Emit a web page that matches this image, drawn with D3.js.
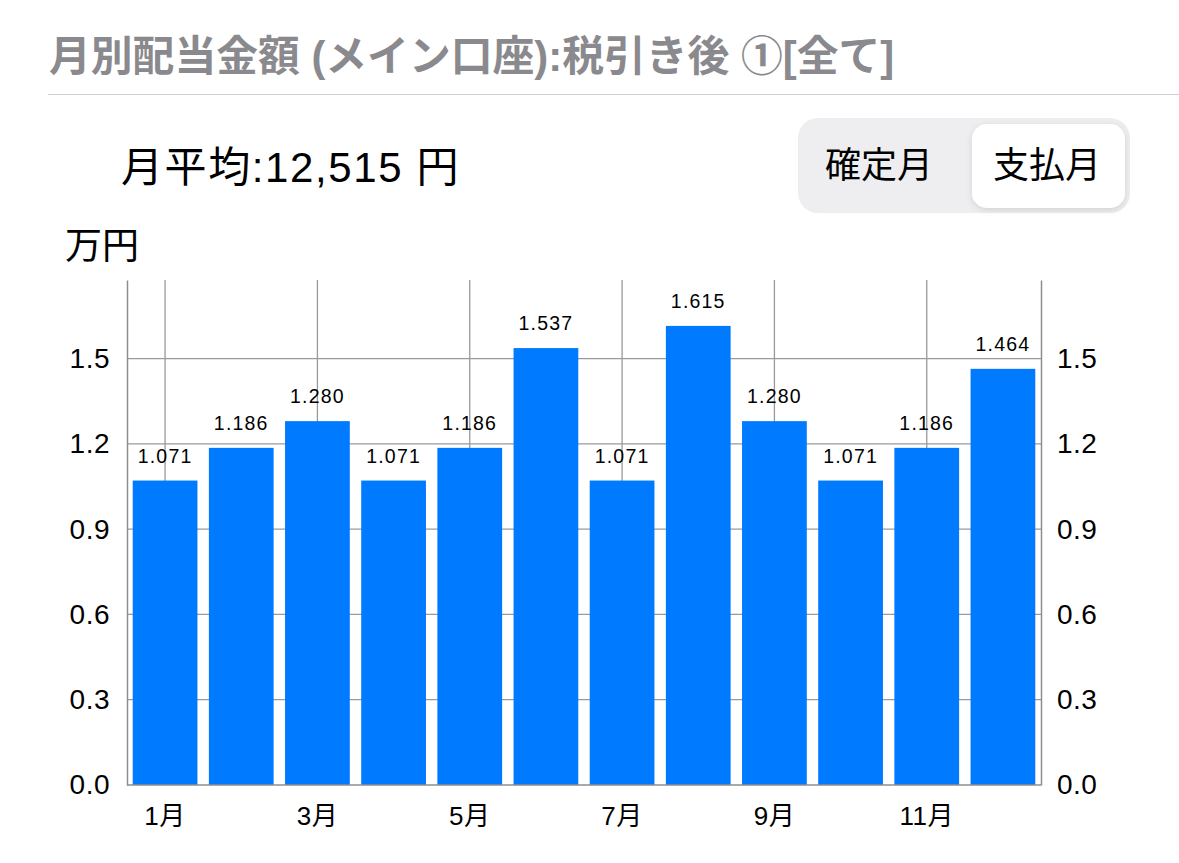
<!DOCTYPE html>
<html>
<head>
<meta charset="utf-8">
<script src="https://cdn.jsdelivr.net/npm/d3@7"></script>
<style>
  body { margin: 0; background: #fff; }
  text { font-family: "Liberation Sans", "Noto Sans CJK JP", sans-serif; }
</style>
</head>
<body>
<div id="chart"></div>
<script>
// data (万円)
var months = ["1月", "2月", "3月", "4月", "5月", "6月", "7月", "8月", "9月", "10月", "11月", "12月"];
var values = [1.071, 1.186, 1.280, 1.071, 1.186, 1.537, 1.071, 1.615, 1.280, 1.071, 1.186, 1.464];
var yTicks = [0, 0.3, 0.6, 0.9, 1.2, 1.5];
var xTickMonths = ["1月", "3月", "5月", "7月", "9月", "11月"];
var segments = ["確定月", "支払月"];
var titleText = "月別配当金額 (メイン口座):税引き後 ①[全て]";
var averageText = "月平均:12,515 円";
var unitText = "万円";

var svgWidth = 1179;
var svgHeight = 863;
var plot = { left: 127, right: 1041, top: 280, bottom: 785 };

var svg = d3.select("#chart")
  .append("svg")
  .attr("width", svgWidth)
  .attr("height", svgHeight);

// header
svg.append("text")
  .attr("x", 49)
  .attr("y", 71)
  .attr("font-size", "41.8px")
  .attr("font-weight", "bold")
  .attr("fill", "#8a8a8e")
  .text(titleText);

svg.append("line")
  .attr("x1", 48).attr("x2", svgWidth)
  .attr("y1", 94.5).attr("y2", 94.5)
  .attr("stroke", "#cfcfd2")
  .attr("stroke-width", 1.2);

svg.append("text")
  .attr("x", 121)
  .attr("y", 182)
  .attr("font-size", "42px")
  .attr("letter-spacing", "1.6px")
  .attr("fill", "#000")
  .text(averageText);

// segmented control
var defs = svg.append("defs");
var shadow = defs.append("filter").attr("id", "segShadow")
  .attr("x", "-20%").attr("y", "-20%").attr("width", "140%").attr("height", "140%");
shadow.append("feDropShadow")
  .attr("dx", 0).attr("dy", 2).attr("stdDeviation", 3)
  .attr("flood-color", "#000").attr("flood-opacity", 0.12);

var seg = svg.append("g");
seg.append("rect")
  .attr("x", 798).attr("y", 118)
  .attr("width", 332).attr("height", 95)
  .attr("rx", 20)
  .attr("fill", "#eeeef0");
seg.append("rect")
  .attr("x", 972).attr("y", 124)
  .attr("width", 153).attr("height", 84)
  .attr("rx", 15)
  .attr("fill", "#fff")
  .attr("filter", "url(#segShadow)");
var segX = d3.scaleBand().domain(segments).range([796, 1128]);
seg.selectAll("text.seg")
  .data(segments)
  .enter()
  .append("text")
  .attr("class", "seg")
  .attr("x", d => segX(d) + segX.bandwidth() / 2 + (d === "支払月" ? 2 : 0))
  .attr("y", 178)
  .attr("text-anchor", "middle")
  .attr("font-size", "36px")
  .attr("fill", "#000")
  .text(d => d);

svg.append("text")
  .attr("x", 65)
  .attr("y", 259)
  .attr("font-size", "37px")
  .attr("fill", "#000")
  .text(unitText);

// scales
var x = d3.scaleBand()
  .domain(months)
  .range([plot.left, plot.right])
  .paddingInner(0.15)
  .paddingOuter(0.075);

var y = d3.scaleLinear()
  .domain([0, d3.max(values) * 1.1])
  .range([plot.bottom, plot.top]);

var chart = svg.append("g");

// grid
chart.append("g")
  .selectAll("line")
  .data(yTicks.filter(d => d > 0))
  .enter()
  .append("line")
  .attr("x1", plot.left).attr("x2", plot.right)
  .attr("y1", d => y(d)).attr("y2", d => y(d))
  .attr("stroke", "#9a9a9a")
  .attr("stroke-width", 1.3);

chart.append("g")
  .selectAll("line")
  .data(xTickMonths)
  .enter()
  .append("line")
  .attr("x1", d => x(d) + x.bandwidth() / 2)
  .attr("x2", d => x(d) + x.bandwidth() / 2)
  .attr("y1", plot.top).attr("y2", plot.bottom)
  .attr("stroke", "#9a9a9a")
  .attr("stroke-width", 1.3);

// bars
chart.append("g")
  .selectAll("rect")
  .data(values)
  .enter()
  .append("rect")
  .attr("x", (d, i) => x(months[i]))
  .attr("y", d => y(d))
  .attr("width", x.bandwidth())
  .attr("height", d => y(0) - y(d))
  .attr("fill", "#007aff");

// value labels
chart.append("g")
  .selectAll("text")
  .data(values)
  .enter()
  .append("text")
  .attr("x", (d, i) => x(months[i]) + x.bandwidth() / 2)
  .attr("y", d => y(d) - 18)
  .attr("text-anchor", "middle")
  .attr("font-size", "19.5px")
  .attr("letter-spacing", "1.2px")
  .attr("fill", "#000")
  .text(d => d3.format(".3f")(d));

// axes
var leftAxis = d3.axisLeft(y)
  .tickValues(yTicks)
  .tickFormat(d3.format(".1f"))
  .tickSize(0)
  .tickPadding(17);
var rightAxis = d3.axisRight(y)
  .tickValues(yTicks)
  .tickFormat(d3.format(".1f"))
  .tickSize(0)
  .tickPadding(16);
var bottomAxis = d3.axisBottom(x)
  .tickValues(xTickMonths)
  .tickSize(0)
  .tickPadding(22);

function styleAxis(g) {
  g.select(".domain").attr("stroke", "#8e8e8e").attr("stroke-width", 1.5);
  g.selectAll("text")
    .attr("font-size", "28px")
    .attr("letter-spacing", "0.5px")
    .attr("fill", "#000")
    .style("font-family", "\"Liberation Sans\", \"Noto Sans CJK JP\", sans-serif");
}

chart.append("g")
  .attr("transform", `translate(${plot.left}, 0)`)
  .call(leftAxis)
  .call(styleAxis);

chart.append("g")
  .attr("transform", `translate(${plot.right}, 0)`)
  .call(rightAxis)
  .call(styleAxis);

chart.append("g")
  .attr("transform", `translate(0, ${plot.bottom})`)
  .call(bottomAxis)
  .call(styleAxis)
  .call(g => g.select(".domain").attr("d", `M0,0H${plot.right - plot.left}`)
    .attr("transform", `translate(${plot.left},0)`))
  .call(g => g.selectAll("text").attr("font-size", "26px"));
</script>
</body>
</html>
